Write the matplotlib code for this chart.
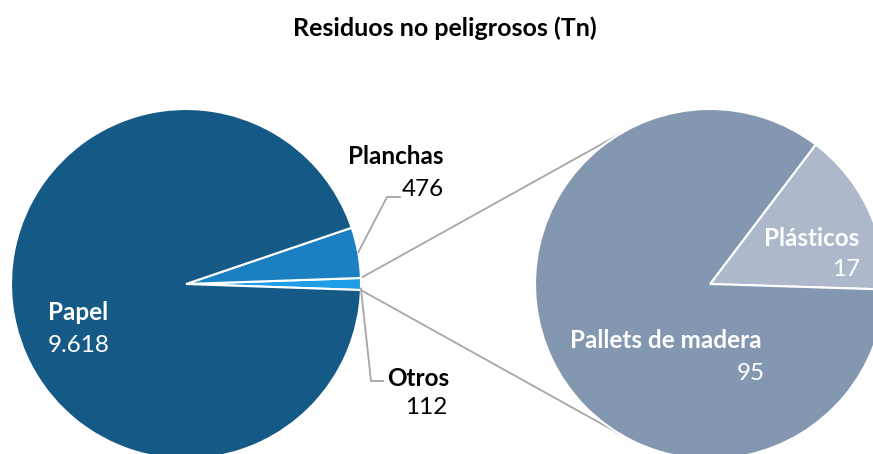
import numpy as np
import matplotlib
matplotlib.use('Agg')
import matplotlib.pyplot as plt

plt.rcParams['font.family'] = ['Lato', 'DejaVu Sans']

# datos
main_labels = ['Papel', 'Planchas', 'Otros']
main_values = [9618, 476, 112]
main_colors = ['#155a87', '#1b80c2', '#1f9de6']

sub_labels = ['Pallets de madera', 'Plásticos']
sub_values = [95, 17]
sub_colors = ['#8497b0', '#adb9cb']

title = 'Residuos no peligrosos (Tn)'


def fmt(v):
    return f'{v:,}'.replace(',', '.')


W, H = 873, 454
fig = plt.figure(figsize=(W / 100, H / 100), dpi=100)
ax = fig.add_axes([0, 0, 1, 1])

c1 = np.array([186.0, 170.0])
c2 = np.array([710.0, 170.0])
R = 175

# pie principal: "Otros" centrado en 0 grados
otros_ang = 360 * main_values[2] / sum(main_values)
ax.pie(main_values[::-1], colors=main_colors[::-1], startangle=-otros_ang / 2,
       counterclock=True, center=tuple(c1), radius=R,
       wedgeprops=dict(edgecolor='white', linewidth=1.5))

ax.pie(sub_values[::-1], colors=sub_colors[::-1], startangle=-1.8,
       counterclock=True, center=tuple(c2), radius=R,
       wedgeprops=dict(edgecolor='white', linewidth=1.5))


def pt(c, ang, r=R):
    a = np.deg2rad(ang)
    return c + r * np.array([np.cos(a), np.sin(a)])


# lineas de union
for sgn in (1, -1):
    p1 = pt(c1, sgn * otros_ang / 2)
    p2 = pt(c2, sgn * 120.7)
    ax.plot([p1[0], p2[0]], [p1[1], p2[1]], color='#a6a6a6', lw=1.3, zorder=0)

# lineas guia
lc = '#a6a6a6'
planchas_mid = otros_ang / 2 + 180 * main_values[1] / sum(main_values)
p = pt(c1, planchas_mid)
ax.plot([p[0], 387, 400], [p[1], 257, 257], color=lc, lw=1.3)
p = pt(c1, -1.5)
ax.plot([p[0], 371, 383], [p[1], 73, 73], color=lc, lw=1.3)

fs = 17.5
ax.text(445, 426, title, ha='center', va='center', fontsize=18, fontweight='bold')

ax.text(48, 141, main_labels[0], ha='left', va='center', fontsize=fs,
        fontweight='bold', color='white')
ax.text(48, 109, fmt(main_values[0]), ha='left', va='center', fontsize=fs, color='white')

ax.text(396, 297, main_labels[1], ha='center', va='center', fontsize=fs, fontweight='bold')
ax.text(444, 264, fmt(main_values[1]), ha='right', va='center', fontsize=fs)

ax.text(418, 76, main_labels[2], ha='center', va='center', fontsize=fs, fontweight='bold')
ax.text(447, 46, fmt(main_values[2]), ha='right', va='center', fontsize=fs)

ax.text(666, 114, sub_labels[0], ha='center', va='center', fontsize=fs,
        fontweight='bold', color='white')
ax.text(765, 80, fmt(sub_values[0]), ha='right', va='center', fontsize=fs, color='white')

ax.text(812, 215, sub_labels[1], ha='center', va='center', fontsize=fs,
        fontweight='bold', color='white')
ax.text(860, 184, fmt(sub_values[1]), ha='right', va='center', fontsize=fs, color='white')

ax.set_xlim(0, W)
ax.set_ylim(0, H)
ax.set_aspect('equal')
ax.axis('off')

fig.savefig('out.png', dpi=100)
